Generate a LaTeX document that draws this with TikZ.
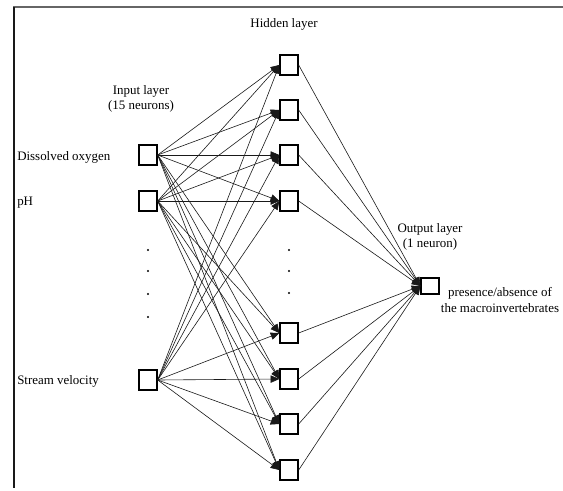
\documentclass[tikz,border=0pt]{standalone}
\usepackage{fontspec}
\setmainfont{Liberation Serif}
\usetikzlibrary{arrows.meta}

\newcommand*{\inx}{148}
\newcommand*{\hidx}{289}
\newcommand*{\outx}{430}

\begin{document}
\begin{tikzpicture}[x=0.75pt,y=-0.75pt,
	neuron/.style={draw,line width=1.5pt,minimum width=13pt,minimum height=15.5pt,inner sep=0pt},
	syn/.style={-{Triangle[length=6.5pt,width=5.5pt]},line width=0.45pt,black!90},
	lbl/.style={inner sep=0pt,font=\fontsize{9.7}{11.5}\selectfont,align=center}]

	\useasboundingbox (0,0) rectangle (563,490);

	% frame
	\draw[line width=1.5pt,black!60] (13,7) -- (563,7);
	\draw[line width=1.5pt,black!90] (14,7) -- (14,488);

	% input layer
	\node[neuron] (dox) at (\inx,155) {};
	\node[neuron] (ph) at (\inx,201) {};
	\node[neuron] (sv) at (\inx,380) {};

	% hidden layer
	\foreach \y [count=\i] in {65,110,155,201,333,379,424,470}
		\node[neuron] (h\i) at (\hidx,\y) {};

	% output layer
	\node[neuron,minimum height=12.5pt] (out) at (\outx,286) {};

	% connections
	\foreach \s in {dox,ph,sv}
		\foreach \i in {1,...,8}
			\draw[syn] (\s.east) -- (h\i.west);
	\foreach \i in {1,...,8}
		\draw[syn] (h\i.east) -- (out.west);

	% dots
	\foreach \y in {250,271,294,317}
		\fill (\inx,\y) circle[radius=1.1];
	\foreach \y in {250,271,293}
		\fill (\hidx,\y) circle[radius=1.1];

	% labels
	\node[lbl] (hidlbl) at (284,24) {Hidden layer};
	\node[lbl] (inlbl) at (141,99) {Input layer\\(15 neurons)};
	\node[lbl] (outlbl) at (430,237) {Output layer\\(1 neuron)};
	\node[lbl,anchor=west] (doxlbl) at (17,157) {Dissolved oxygen};
	\node[lbl,anchor=west] (phlbl) at (17,203) {pH};
	\node[lbl,anchor=west] (svlbl) at (17,381) {Stream velocity};
	\node[lbl] (reslbl) at (500,300) {presence/absence of\\the macroinvertebrates};

\end{tikzpicture}
\end{document}
